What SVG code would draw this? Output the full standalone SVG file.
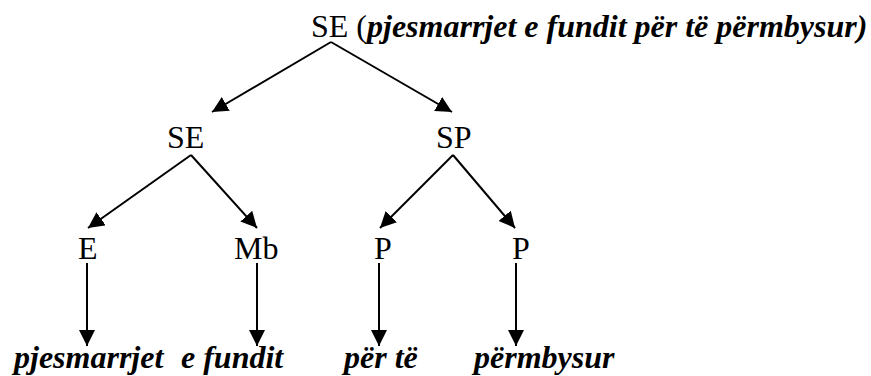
<svg xmlns="http://www.w3.org/2000/svg" width="871" height="376" viewBox="0 0 871 376">
<style>
text{font-family:'Liberation Serif','Tinos','Times New Roman','DejaVu Serif',serif;font-size:32px;fill:#000}
.bi{font-weight:bold;font-style:italic}
.c line{stroke:#000;stroke-width:2;marker-end:url(#ah)}
</style>
<defs>
<marker id="ah" markerUnits="userSpaceOnUse" markerWidth="18" markerHeight="18" refX="16" refY="8" orient="auto">
<path d="M0,0 L16,8 L0,16 Z" fill="#000"/>
</marker>
</defs>
<rect width="871" height="376" fill="#fff"/>
<g id="n-root"><text x="311" y="37">SE (<tspan class="bi">pjesmarrjet e fundit për të përmbysur)</tspan></text></g>
<g id="n-se"><text x="167" y="148">SE</text></g>
<g id="n-sp"><text x="436" y="148">SP</text></g>
<g id="n-e"><text x="78" y="259">E</text></g>
<g id="n-mb"><text x="234" y="259">Mb</text></g>
<g id="n-p1"><text x="374" y="259">P</text></g>
<g id="n-p2"><text x="512" y="259">P</text></g>
<g id="w1"><text class="bi" x="14" y="368">pjesmarrjet</text></g>
<g id="w2"><text class="bi" x="181" y="368">e fundit</text></g>
<g id="w3"><text class="bi" x="344" y="368">për të</text></g>
<g id="w4"><text class="bi" x="474" y="368">përmbysur</text></g>
<g id="connectors" class="c">
<line x1="331" y1="42" x2="212" y2="112"/>
<line x1="331" y1="42" x2="452" y2="112"/>
<line x1="191" y1="155" x2="88" y2="228"/>
<line x1="191" y1="155" x2="257" y2="228"/>
<line x1="453" y1="155" x2="380" y2="228"/>
<line x1="453" y1="155" x2="515" y2="228"/>
<line x1="87" y1="263" x2="87" y2="346"/>
<line x1="257" y1="263" x2="257" y2="346"/>
<line x1="379" y1="263" x2="379" y2="346"/>
<line x1="516" y1="263" x2="516" y2="346"/>
</g>
</svg>
